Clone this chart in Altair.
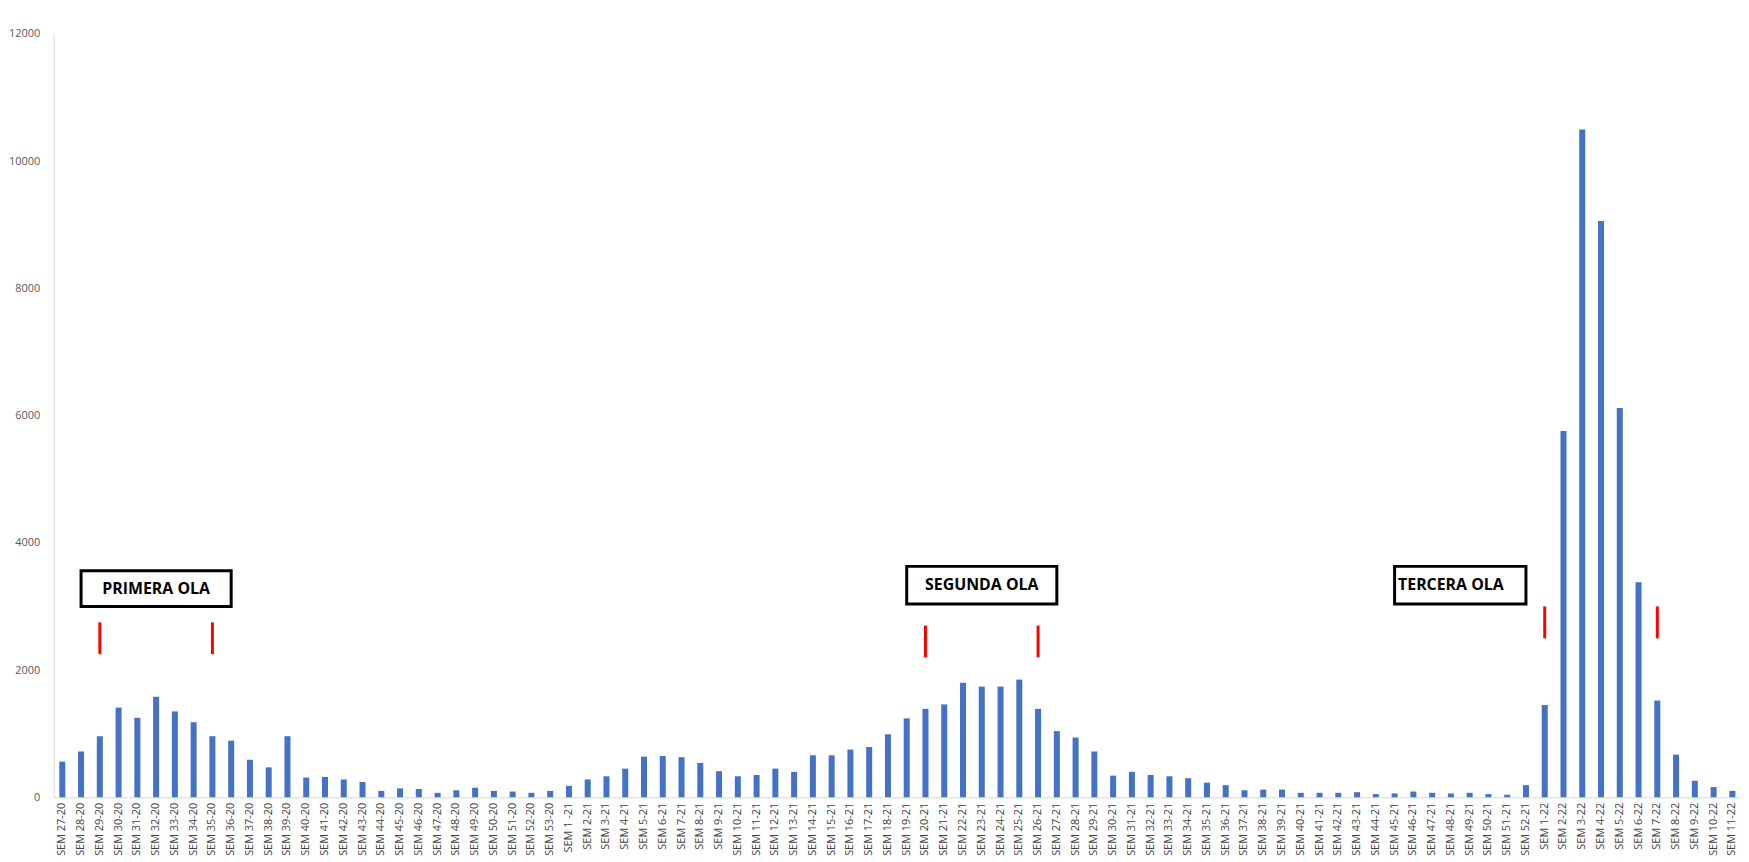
import altair as alt
import pandas as pd

weeks = ([f"SEM {n}-20" for n in range(27, 54)]
         + ["SEM 1 -21"] + [f"SEM {n}-21" for n in range(2, 53)]
         + [f"SEM {n}-22" for n in range(1, 12)])

cases = [560, 720, 960, 1410, 1250, 1580, 1350, 1180, 960, 890, 590, 470, 960,
         310, 320, 280, 240, 100, 140, 130, 70, 110, 150, 100, 90, 70, 100,
         180, 280, 330, 450, 640, 650, 630, 540, 410, 330, 350, 450, 400, 660,
         660, 750, 790, 990, 1240, 1390, 1460, 1800, 1740, 1740, 1850, 1390,
         1040, 940, 720, 340, 400, 350, 330, 300, 230, 190, 110, 120, 120, 70,
         70, 70, 80, 50, 60, 90, 70, 60, 70, 50, 40, 190,
         1450, 5760, 10500, 9060, 6120, 3380, 1520, 670, 260, 160, 100]

df = pd.DataFrame({"week": weeks, "cases": cases})

wave_labels = ["PRIMERA OLA", "SEGUNDA OLA", "TERCERA OLA"]
wave_box_start = ["SEM 28-20", "SEM 19-21", "SEM 45-21"]
wave_box_end = ["SEM 36-20", "SEM 27-21", "SEM 52-21"]
wave_text_at = ["SEM 32-20", "SEM 23-21", "SEM 48-21"]
box_low = [3000, 3040, 3040]
box_high = [3560, 3630, 3630]

mark_weeks = ["SEM 29-20", "SEM 35-20", "SEM 20-21", "SEM 26-21", "SEM 1-22", "SEM 7-22"]
mark_low = [2250, 2250, 2200, 2200, 2500, 2500]
mark_high = [2750, 2750, 2700, 2700, 3000, 3000]

boxes = pd.DataFrame({"label": wave_labels, "start": wave_box_start, "end": wave_box_end,
                      "at": wave_text_at, "lo": box_low, "hi": box_high})
boxes["mid"] = (boxes["lo"] + boxes["hi"]) / 2
ticks = pd.DataFrame({"week": mark_weeks, "lo": mark_low, "hi": mark_high})

xscale = alt.Scale(domain=weeks, paddingInner=0.68, paddingOuter=0.3)
x = alt.X("week:N", sort=weeks, scale=xscale, title=None,
          axis=alt.Axis(labelAngle=270, labelFontSize=11, labelColor="#404040",
                        labelFont="Open Sans", ticks=False, domainColor="#d9d9d9",
                        labelPadding=5))

bars = alt.Chart(df).mark_bar(color="#4472C4").encode(
    x=x,
    y=alt.Y("cases:Q", title=None, scale=alt.Scale(domain=[0, 12000]),
            axis=alt.Axis(values=list(range(0, 12001, 2000)), format="d", grid=False,
                          ticks=False, domain=True, domainColor="#d9d9d9",
                          labelColor="#595959", labelFontSize=11, labelFont="Open Sans",
                          labelPadding=14)),
)

rects = alt.Chart(boxes).mark_rect(fill="white", stroke="black", strokeWidth=3).encode(
    x=alt.X("start:N", sort=weeks, scale=xscale),
    x2="end:N",
    y="lo:Q",
    y2="hi:Q",
)

texts = alt.Chart(boxes).mark_text(fontWeight="bold", fontSize=16, font="Open Sans",
                                   color="black").encode(
    x=alt.X("at:N", sort=weeks, scale=xscale),
    y="mid:Q",
    text="label:N",
)

rules = alt.Chart(ticks).mark_rule(color="red", strokeWidth=3).encode(
    x=alt.X("week:N", sort=weeks, scale=xscale),
    y="lo:Q",
    y2="hi:Q",
)

chart = alt.layer(bars, rules, rects, texts).properties(
    width=1700, height=769, padding={"top": 17, "left": 0, "right": 0, "bottom": 0}
).configure_view(stroke=None)

chart.save("out.html", embed_options={"renderer": "svg", "actions": False})
